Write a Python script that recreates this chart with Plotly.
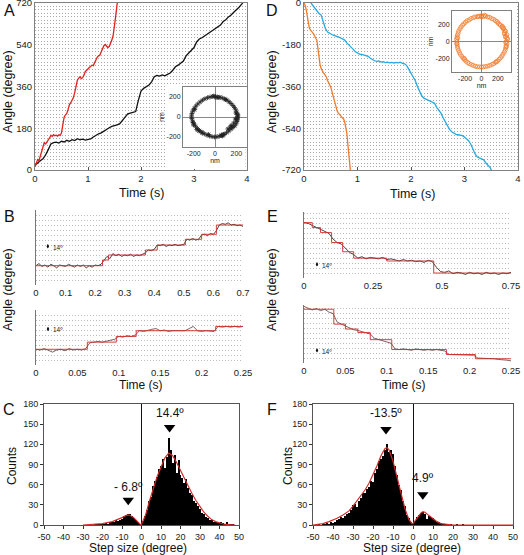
import plotly.graph_objects as go

W, H = 524, 555
FONT = "Liberation Sans, Arial, Helvetica, sans-serif"

# ---------------- data ----------------
# Panel A: rotation angle (degree) vs time (s)
a_red = [(0, 14), (.025, 28), (.05, 45), (.075, 40), (.1, 62), (.125, 80), (.15, 95), (.175, 118), (.2, 112),
         (.225, 125), (.25, 130), (.275, 138), (.3, 150), (.325, 145), (.35, 152), (.375, 148), (.4, 150),
         (.425, 146), (.45, 152), (.475, 149), (.5, 160), (.525, 195), (.55, 228), (.575, 238), (.6, 244),
         (.625, 262), (.65, 282), (.675, 290), (.7, 302), (.725, 312), (.75, 335), (.775, 370), (.8, 388),
         (.825, 396), (.85, 402), (.875, 394), (.9, 398), (.925, 410), (.95, 425), (.975, 430), (1.0, 438),
         (1.025, 442), (1.05, 446), (1.075, 452), (1.1, 450), (1.125, 462), (1.15, 480), (1.175, 487),
         (1.2, 492), (1.225, 496), (1.25, 510), (1.275, 528), (1.3, 536), (1.325, 541), (1.35, 535),
         (1.375, 528), (1.4, 532), (1.425, 545), (1.45, 560), (1.475, 580), (1.5, 615), (1.525, 668),
         (1.55, 716), (1.56, 730)]
a_black = [(0, 21), (.05, 32), (.1, 40), (.15, 48), (.2, 65), (.25, 88), (.3, 112), (.35, 118), (.4, 120),
           (.45, 116), (.5, 124), (.55, 121), (.6, 128), (.65, 124), (.7, 131), (.75, 127), (.8, 135),
           (.85, 130), (.9, 133), (.95, 129), (1.0, 131), (1.05, 134), (1.1, 142), (1.15, 150), (1.2, 156),
           (1.25, 160), (1.3, 168), (1.35, 176), (1.4, 182), (1.45, 188), (1.5, 190), (1.55, 195), (1.6, 200),
           (1.65, 212), (1.7, 228), (1.75, 242), (1.8, 245), (1.85, 248), (1.9, 252), (1.95, 300), (2.0, 340),
           (2.05, 352), (2.1, 358), (2.15, 366), (2.2, 380), (2.25, 402), (2.3, 408), (2.35, 405), (2.4, 410),
           (2.45, 406), (2.5, 412), (2.55, 418), (2.6, 430), (2.65, 445), (2.7, 452), (2.75, 460), (2.8, 470),
           (2.85, 492), (2.9, 505), (2.95, 515), (3.0, 528), (3.05, 552), (3.1, 565), (3.15, 570), (3.2, 578),
           (3.25, 585), (3.3, 592), (3.35, 600), (3.4, 610), (3.45, 615), (3.5, 625), (3.55, 640), (3.6, 648),
           (3.65, 660), (3.7, 668), (3.75, 680), (3.8, 690), (3.85, 702), (3.9, 715), (3.93, 724)]
a_inset_pts = [(0, 205), (22, 200), (45, 198), (68, 190), (90, 180), (112, 168), (132, 152), (150, 135),
               (168, 115), (182, 95), (195, 72), (204, 48), (210, 24), (214, 0), (212, -22), (206, -45),
               (198, -68), (185, -88), (168, -105), (150, -120), (130, -140), (108, -158), (85, -172),
               (62, -185), (40, -192), (18, -198), (-5, -200), (-28, -196), (-52, -190), (-76, -180),
               (-100, -168), (-122, -152), (-145, -135), (-165, -115), (-182, -92), (-198, -68), (-210, -42),
               (-218, -15), (-220, 10), (-216, 35), (-208, 60), (-196, 85), (-180, 108), (-162, 130),
               (-140, 150), (-118, 168), (-95, 182), (-70, 193), (-46, 200), (-22, 205), (10, 195), (-12, 210),
               (195, 40), (205, -10), (200, -30), (150, -85), (160, -95), (140, -110), (120, -120), (175, -60),
               (60, -180), (80, -175), (-150, -140), (-170, -125), (-205, -55), (-190, 75), (100, 175),
               (35, 195), (-60, -175), (215, 20), (190, -20), (-200, -80), (-120, -160), (70, -190)]

# Panel D
d_orange = [(0.0, 0), (0.02, -10), (0.04, -28), (0.06, -55), (0.08, -82), (0.1, -108), (0.12, -116),
            (0.14, -120), (0.16, -128), (0.18, -133), (0.2, -140), (0.22, -152), (0.24, -160), (0.26, -200),
            (0.28, -240), (0.3, -266), (0.32, -282), (0.34, -296), (0.36, -300), (0.38, -306), (0.4, -312),
            (0.42, -320), (0.44, -334), (0.46, -342), (0.48, -350), (0.5, -362), (0.52, -380), (0.54, -398),
            (0.56, -418), (0.58, -436), (0.6, -455), (0.62, -466), (0.64, -474), (0.66, -478), (0.68, -486),
            (0.7, -490), (0.72, -496), (0.74, -500), (0.76, -512), (0.78, -530), (0.8, -560), (0.82, -610),
            (0.84, -660), (0.86, -712), (0.87, -730)]
d_blue = [(0.13, 0), (0.16, -10), (0.2, -22), (0.24, -35), (0.28, -45), (0.32, -52), (0.36, -80), (0.4, -110),
          (0.44, -125), (0.48, -132), (0.52, -136), (0.56, -140), (0.6, -142), (0.64, -146), (0.68, -150),
          (0.72, -155), (0.76, -160), (0.8, -172), (0.84, -180), (0.88, -190), (0.92, -200), (0.96, -210),
          (1.0, -216), (1.04, -220), (1.08, -222), (1.12, -225), (1.16, -228), (1.2, -230), (1.24, -238),
          (1.28, -245), (1.32, -249), (1.36, -252), (1.4, -250), (1.44, -255), (1.48, -253), (1.52, -257),
          (1.56, -255), (1.6, -258), (1.64, -256), (1.68, -259), (1.72, -256), (1.76, -258), (1.8, -255),
          (1.84, -260), (1.88, -262), (1.92, -270), (1.96, -285), (2.0, -300), (2.04, -315), (2.08, -335),
          (2.12, -360), (2.16, -380), (2.2, -400), (2.24, -410), (2.28, -414), (2.32, -420), (2.36, -424),
          (2.4, -426), (2.44, -432), (2.48, -450), (2.52, -462), (2.56, -475), (2.6, -495), (2.64, -512),
          (2.68, -528), (2.72, -545), (2.76, -555), (2.8, -562), (2.84, -566), (2.88, -568), (2.92, -570),
          (2.96, -572), (3.0, -578), (3.04, -585), (3.08, -595), (3.12, -610), (3.16, -630), (3.2, -652),
          (3.24, -664), (3.28, -668), (3.32, -670), (3.36, -676), (3.4, -690), (3.44, -700), (3.48, -710),
          (3.52, -730)]
d_inset_pts = [(305, 0), (320, 30), (290, 55), (310, 80), (280, 105), (295, 120), (265, 150), (250, 170),
               (230, 195), (215, 205), (190, 235), (170, 245), (150, 262), (125, 270), (100, 285), (75, 290),
               (50, 300), (25, 295), (0, 305), (-25, 300), (-52, 292), (-80, 290), (-100, 280), (-128, 272),
               (-150, 255), (-175, 245), (-195, 228), (-215, 210), (-232, 192), (-250, 172), (-262, 150),
               (-278, 125), (-285, 100), (-295, 75), (-300, 50), (-305, 25), (-300, 0), (-302, -25),
               (-295, -55), (-290, -80), (-280, -105), (-270, -130), (-258, -152), (-240, -175), (-225, -195),
               (-205, -215), (-190, -232), (-168, -248), (-150, -262), (-125, -272), (-100, -282), (-75, -292),
               (-50, -298), (-25, -300), (0, -302), (25, -298), (52, -295), (78, -290), (102, -282),
               (128, -270), (150, -262), (172, -245), (195, -230), (215, -210), (232, -192), (250, -172),
               (262, -150), (278, -125), (290, -102), (295, -75), (300, -50), (310, -25), (285, 130),
               (270, 160), (255, 180), (300, 60), (310, 40), (280, 90), (295, -10), (305, -60), (-290, 40),
               (-298, -30), (0, 290), (40, 310), (-40, 295), (200, 220), (-210, -200), (180, -240)]

# Panels B / E: angle traces (relative, degree) and step fits
b_top_angle = [27, 30, 26, 28, 25, 29, 27, 24, 28, 27, 26, 29, 27, 25, 28, 26, 28, 24, 27, 25,
               28, 27, 29, 35, 40, 37, 44, 41, 43, 40, 42, 41, 43, 40, 42, 41, 43, 45, 49, 48,
               50, 56, 55, 57, 54, 56, 55, 57, 55, 56, 57, 64, 63, 65, 63, 64, 70, 71, 69, 72,
               71, 76, 84, 86, 85, 87, 84, 85, 83, 84, 82]
b_top_fit_t = [0, 0.225, 0.245, 0.37, 0.41, 0.505, 0.56, 0.61, 0.70]
b_top_fit_a = [27, 35, 42, 49, 56, 64, 71, 84, 84]
b_bot_angle = [22, 21, 23, 20, 18, 21, 22, 20, 23, 21, 22, 21, 23, 31, 32, 33, 32, 33, 34, 36,
               40, 39, 41, 40, 42, 48, 47, 49, 50, 51, 48, 49, 47, 48, 48, 49, 48, 51, 54, 48,
               47, 48, 47, 47, 54, 53, 54, 53, 54, 53, 54]
b_bot_fit_t = [0, 0.062, 0.097, 0.121, 0.217, 0.25]
b_bot_fit_a = [22, 32, 40, 48, 54, 54]
e_top_angle = [78, 77, 74, 71, 69, 66, 63, 55, 50, 48, 42, 36, 33, 28, 30, 27, 29, 28, 27, 29,
               26, 27, 25, 24, 26, 24, 25, 23, 24, 22, 25, 23, 15, 9, 8, 10, 6, 8, 7, 5,
               8, 6, 7, 5, 8, 6, 7, 5, 7, 6, 8]
e_top_fit_t = [0, 0.03, 0.06, 0.1, 0.14, 0.18, 0.3, 0.47, 0.75]
e_top_fit_a = [78, 71, 64, 50, 37, 28, 24, 7, 7]
e_bot_angle = [80, 77, 75, 77, 74, 76, 72, 70, 58, 55, 52, 49, 47, 46, 44, 42, 41, 35, 33, 31,
               30, 28, 20, 19, 20, 19, 18, 20, 19, 18, 19, 18, 19, 18, 17, 12, 12, 11, 12, 11,
               12, 11, 7, 7, 6, 7, 6, 5, 5, 4, 3]
e_bot_fit_t = [0, 0.036, 0.05, 0.065, 0.08, 0.106, 0.172, 0.207, 0.25]
e_bot_fit_a = [76, 55, 48, 43, 33, 19, 12, 6, 6]
b_top_time = [i * 0.01 for i in range(71)]
b_bot_time = [i * 0.005 for i in range(51)]
e_top_time = [i * 0.015 for i in range(51)]
e_bot_time = [i * 0.005 for i in range(51)]
scale_bar = 8.4  # height of the "14º" bar in the plotted units

# Panels C / F: step size histograms
c_bins = list(range(-27, 48))
c_counts = [0, 1, 0, 1, 1, 1, 2, 1, 2, 3, 2, 4, 4, 5, 7, 6, 8, 9, 13, 15,
            17, 16, 14, 10, 7, 4, 2, 1, 6, 14, 22, 35, 42, 58, 66, 72, 84, 88, 98, 85,
            101, 130, 112, 92, 104, 78, 96, 74, 70, 62, 68, 55, 47, 44, 36, 32, 29, 24, 18, 17,
            12, 11, 8, 7, 5, 5, 4, 3, 4, 3, 2, 4, 2, 1, 1]
c_fit_x = [-30, -25, -20, -15, -12, -10, -8, -7, -6, -4, -2, -0.5, 0, 2, 4, 6, 8, 10, 12, 14,
           16, 18, 20, 22, 24, 26, 28, 30, 32, 34, 36, 38, 40, 42, 45, 48]
c_fit_y = [0, 0.5, 2, 5, 8, 11, 14, 15, 14.5, 11, 5, 0.5, 1, 14, 35, 55, 72, 86, 100, 107,
           103, 93, 81, 70, 58, 46, 36, 27, 19, 13, 8, 5, 3, 1.5, 0.5, 0]
f_bins = list(range(-47, 26))
f_counts = [1, 0, 2, 1, 3, 2, 4, 3, 5, 8, 9, 12, 11, 14, 16, 18, 22, 30, 31, 27,
            35, 40, 47, 48, 53, 56, 66, 64, 78, 84, 95, 98, 103, 112, 120, 108, 112, 105, 88, 75,
            60, 52, 35, 28, 15, 10, 5, 2, 6, 12, 15, 18, 20, 16, 9, 13, 12, 10, 7, 5,
            4, 3, 2, 2, 1, 0, 1, 0, 0, 1, 0, 0, 2]
f_fit_x = [-50, -45, -42, -40, -38, -35, -32, -30, -28, -26, -24, -22, -20, -18, -16, -14, -13, -12, -10, -8,
           -6, -4, -2, -0.5, 0, 2, 4, 5, 6, 8, 10, 12, 14, 16, 20, 50]
f_fit_y = [0, 2, 5, 7, 10, 15, 21, 28, 36, 43, 52, 62, 74, 88, 103, 114, 115, 112, 95, 72,
           46, 24, 8, 2, 2, 10, 18, 20, 19, 14, 9, 5, 2, 1, 0, 0]
c_peaks = [14.4, -6.8]
c_peak_marks = [145, 37]
c_peak_text_y = [167, 57]
c_peak_labels = ["14.4º", "- 6.8º"]
f_peaks = [-13.5, 4.9]
f_peak_marks = [142, 45]
f_peak_text_y = [167, 70]
f_peak_labels = ["-13.5º", "4.9º"]

a_yticks = [0, 180, 360, 540, 720]
d_yticks = [0, -180, -360, -540, -720]
time_ticks = [0, 1, 2, 3, 4]
inset_ticks = [-200, 0, 200]
hist_xticks = list(range(-50, 51, 10))
hist_yticks = list(range(0, 181, 30))

RED = "#e3211f"
BLACK = "#111111"
ORANGE = "#f07a2b"
BLUE = "#27a9e1"
FIT = "#d22a2a"
GRID = "#a8a8a8"
FRAME = "#808080"


def px_x(a, b):
    return [a / W, b / W]


def px_y(top, bottom):
    return [1 - bottom / H, 1 - top / H]


def ax(n, c):
    return c if n == 1 else f"{c}{n}"


def lbl(v):
    return [str(t) for t in v]


fig = go.Figure()
layout = dict(width=W, height=H, margin=dict(l=0, r=0, t=0, b=0), template="none",
              paper_bgcolor="white", plot_bgcolor="white", showlegend=False,
              font=dict(family=FONT, size=10, color="#222"), annotations=[])


def set_axes(n, xd, yd, xa, ya):
    xa.setdefault("ticklabeloverflow", "allow")
    ya.setdefault("ticklabeloverflow", "allow")
    layout["xaxis" + ("" if n == 1 else str(n))] = dict(domain=xd, anchor=ax(n, "y"), **xa)
    layout["yaxis" + ("" if n == 1 else str(n))] = dict(domain=yd, anchor=ax(n, "x"), **ya)


def add_line(n, x, y, color, width, shape="linear"):
    fig.add_trace(go.Scatter(x=x, y=y, xaxis=ax(n, "x"), yaxis=ax(n, "y"), mode="lines",
                             line=dict(color=color, width=width, shape=shape), hoverinfo="skip"))


def empty(n):
    fig.add_trace(go.Scatter(x=[None], y=[None], xaxis=ax(n, "x"), yaxis=ax(n, "y"), mode="lines",
                             hoverinfo="skip"))


tf9 = dict(family=FONT, size=9.5, color="#222")
tf7 = dict(family=FONT, size=7, color="#222")
dotgrid = dict(showgrid=True, gridcolor=GRID, griddash="1px,2px", gridwidth=1)


# ---- Panel A ----
def main_x():
    return dict(range=[0, 4], tickvals=time_ticks, ticks="inside", ticklen=3, tickcolor="#555",
                showline=True, mirror=True, linecolor=FRAME, showgrid=False, zeroline=False, tickfont=tf9)


set_axes(1, px_x(35, 247), px_y(3, 170), main_x(),
         dict(range=[0, 720], tickvals=a_yticks, ticktext=lbl(a_yticks), ticks="", showline=True,
              mirror=True, linecolor=FRAME, zeroline=False, tickfont=tf9, **dotgrid,
              minor=dict(dtick=15, tick0=0, showgrid=True, gridcolor=GRID, griddash="1px,2px")))
add_line(1, [p[0] for p in a_black], [p[1] for p in a_black], BLACK, 1.3)
add_line(1, [p[0] for p in a_red], [p[1] for p in a_red], RED, 1.3)

hidden = dict(visible=False, showgrid=False, zeroline=False)
set_axes(2, px_x(165, 245.5), px_y(86, 169), dict(range=[0, 1], **hidden), dict(range=[0, 1], **hidden))
empty(2)


def inset_axis(r):
    return dict(range=[-r, r], tickvals=inset_ticks, ticktext=lbl(inset_ticks), ticks="", showline=True,
                mirror=True, linecolor=FRAME, showgrid=False, zeroline=True, zerolinecolor="#888",
                zerolinewidth=1, tickfont=tf7, title=dict(text="nm", font=tf7, standoff=1))


set_axes(3, px_x(183, 247), px_y(87, 147), inset_axis(300), inset_axis(300))
fig.add_trace(go.Scatter(x=[p[0] for p in a_inset_pts], y=[p[1] for p in a_inset_pts], xaxis="x3", yaxis="y3",
                         mode="markers", hoverinfo="skip",
                         marker=dict(symbol="asterisk-open", size=4, color="#222",
                                     line=dict(width=0.8, color="#222"))))

# ---- Panel D ----
set_axes(4, px_x(304, 518), px_y(3, 170), main_x(),
         dict(range=[-720, 0], tickvals=d_yticks, ticktext=lbl(d_yticks), ticks="", showline=True,
              mirror=True, linecolor=FRAME, zeroline=False, tickfont=tf9, **dotgrid,
              minor=dict(dtick=15, tick0=0, showgrid=True, gridcolor=GRID, griddash="1px,2px")))
add_line(4, [p[0] for p in d_blue], [p[1] for p in d_blue], BLUE, 1.3)
add_line(4, [p[0] for p in d_orange], [p[1] for p in d_orange], ORANGE, 1.3)

set_axes(5, px_x(430, 517), px_y(4, 90), dict(range=[0, 1], **hidden), dict(range=[0, 1], **hidden))
empty(5)

set_axes(6, px_x(452, 511), px_y(11, 72), inset_axis(360), inset_axis(360))
fig.add_trace(go.Scatter(x=[p[0] for p in d_inset_pts], y=[p[1] for p in d_inset_pts], xaxis="x6", yaxis="y6",
                         mode="markers", hoverinfo="skip",
                         marker=dict(symbol="circle-open", size=4, color=ORANGE, opacity=0.75,
                                     line=dict(width=1, color=ORANGE))))


# ---- Panels B / E ----
def trace_axes(n, xd, yd, xr, xt, xtt, yr):
    set_axes(n, xd, yd,
             dict(range=xr, tickvals=xt, ticktext=xtt, ticks="", showline=False, showgrid=False,
                  zeroline=False, tickfont=tf9),
             dict(range=yr, dtick=7, tick0=0, showticklabels=False, ticks="", showline=True, linecolor="#777",
                  zeroline=False, showgrid=True, gridcolor="#bcbcbc", griddash="1px,2px"))


short_ticks = [0, 0.05, 0.1, 0.15, 0.2, 0.25]
short_text = ["0", "0.05", "0.1", "0.15", "0.2", "0.25"]
trace_axes(7, px_x(36, 243), px_y(210, 285), [0, 0.7], [0, .1, .2, .3, .4, .5, .6, .7],
           ["0", "0.1", "0.2", "0.3", "0.4", "0.5", "0.6", "0.7"], [0, 105])
add_line(7, b_top_time, b_top_angle, "#1a1a1a", 0.8)
add_line(7, b_top_fit_t, b_top_fit_a, FIT, 0.9, "hv")
trace_axes(8, px_x(36, 243), px_y(310, 365), [0, 0.25], short_ticks, short_text, [0, 77])
add_line(8, b_bot_time, b_bot_angle, "#4a2020", 0.7)
add_line(8, b_bot_fit_t, b_bot_fit_a, FIT, 0.9, "hv")
trace_axes(9, px_x(304, 511), px_y(212, 278), [0, 0.75], [0, 0.25, 0.5, 0.75], ["0", "0.25", "0.5", "0.75"],
           [0, 93])
add_line(9, e_top_time, e_top_angle, "#1a1a1a", 0.8)
add_line(9, e_top_fit_t, e_top_fit_a, FIT, 0.9, "hv")
trace_axes(10, px_x(304, 511), px_y(305, 363), [0, 0.25], short_ticks, short_text, [0, 82])
add_line(10, e_bot_time, e_bot_angle, "#4a2020", 0.7)
add_line(10, e_bot_fit_t, e_bot_fit_a, FIT, 0.9, "hv")

for n, t, base in [(7, 0.04, 49), (8, 0.0145, 45), (9, 0.047, 14), (10, 0.0157, 12.6)]:
    layout["annotations"].append(dict(x=t, y=base + scale_bar, ax=t, ay=base, xref=ax(n, "x"), yref=ax(n, "y"),
                                      axref=ax(n, "x"), ayref=ax(n, "y"), showarrow=True, arrowhead=2,
                                      arrowside="end+start", arrowsize=0.5, arrowwidth=1, arrowcolor="#111",
                                      text=""))
    layout["annotations"].append(dict(x=t, y=base + scale_bar / 2, xref=ax(n, "x"), yref=ax(n, "y"),
                                      xshift=3, xanchor="left", yanchor="middle", showarrow=False,
                                      text="14º", font=dict(family=FONT, size=6.5, color="#222")))


# ---- Panels C / F ----
def hist_axes(n, xd):
    set_axes(n, xd, px_y(404, 525),
             dict(range=[-50, 50], tickvals=hist_xticks, ticktext=lbl(hist_xticks), ticks="outside", ticklen=3,
                  tickcolor="#333", showline=True, mirror=True, linecolor="#555", showgrid=False,
                  zeroline=True, zerolinecolor="#111", zerolinewidth=1, tickfont=dict(family=FONT, size=9)),
             dict(range=[0, 180], tickvals=hist_yticks, ticks="outside", ticklen=3, tickcolor="#333",
                  showline=True, mirror=True, linecolor="#555", showgrid=False, zeroline=False,
                  tickfont=dict(family=FONT, size=9)))


hist_axes(11, px_x(44, 239))
fig.add_trace(go.Bar(x=c_bins, y=c_counts, width=1, xaxis="x11", yaxis="y11",
                     marker=dict(color="black", line=dict(width=0)), hoverinfo="skip"))
add_line(11, c_fit_x, c_fit_y, FIT, 1.2)
fig.add_trace(go.Scatter(x=c_peaks, y=c_peak_marks, xaxis="x11", yaxis="y11", mode="markers", hoverinfo="skip",
                         marker=dict(symbol="triangle-down", size=10, color="black")))
hist_axes(12, px_x(313, 513))
fig.add_trace(go.Bar(x=f_bins, y=f_counts, width=1, xaxis="x12", yaxis="y12",
                     marker=dict(color="black", line=dict(width=0)), hoverinfo="skip"))
add_line(12, f_fit_x, f_fit_y, FIT, 1.2)
fig.add_trace(go.Scatter(x=f_peaks, y=f_peak_marks, xaxis="x12", yaxis="y12", mode="markers", hoverinfo="skip",
                         marker=dict(symbol="triangle-down", size=10, color="black")))
for n, xs, ys, ts in [(11, c_peaks, c_peak_text_y, c_peak_labels), (12, f_peaks, f_peak_text_y, f_peak_labels)]:
    for x, y, t in zip(xs, ys, ts):
        layout["annotations"].append(dict(x=x, y=y, xref=ax(n, "x"), yref=ax(n, "y"), text=t, showarrow=False,
                                          xanchor="center", yanchor="middle",
                                          font=dict(family=FONT, size=12, color="#111")))

layout["bargap"] = 0


# ---- paper-level text: panel letters and axis titles ----
def paper_text(x, y, text, size, angle=0):
    layout["annotations"].append(dict(x=x / W, y=1 - y / H, xref="paper", yref="paper", text=text,
                                      showarrow=False, textangle=angle, xanchor="center", yanchor="middle",
                                      font=dict(family=FONT, size=size, color="#111")))


for letter, x, y in [("A", 9, 10), ("D", 272, 10), ("B", 9, 216), ("E", 272, 216), ("C", 9, 409), ("F", 272, 409)]:
    paper_text(x, y, letter, 16)
paper_text(8, 92, "Angle (degree)", 12.5, -90)
paper_text(272, 92, "Angle (degree)", 12.5, -90)
paper_text(141, 193, "Time (s)", 12.5)
paper_text(412, 194, "Time (s)", 12.5)
paper_text(8, 290, "Angle (degree)", 12.5, -90)
paper_text(272, 290, "Angle (degree)", 12.5, -90)
paper_text(141, 385, "Time (s)", 12)
paper_text(404, 385, "Time (s)", 12)
paper_text(12, 466, "Counts", 12, -90)
paper_text(288, 466, "Counts", 12, -90)
paper_text(138, 548, "Step size (degree)", 12)
paper_text(412, 548, "Step size (degree)", 12)

fig.update_layout(**layout)
fig.write_html("out.html", config={"displayModeBar": False, "staticPlot": True},
               post_script="document.body.style.margin='0px';document.body.style.padding='0px';")
